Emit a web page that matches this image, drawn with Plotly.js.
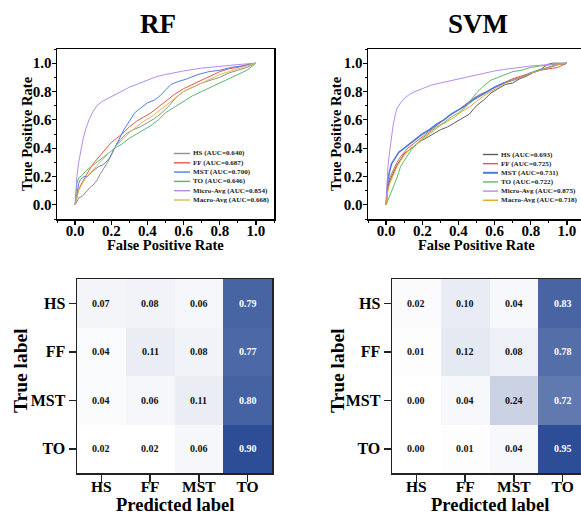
<!DOCTYPE html>
<html>
<head>
<meta charset="utf-8">
<script src="https://cdn.plot.ly/plotly-3.0.1.min.js"></script>
<style>
html,body{margin:0;padding:0;overflow:hidden;background:#fff;}
#plot{width:600px;height:515px;}
</style>
</head>
<body>
<div id="plot"></div>
<script>
// ---------------- DATA ----------------
const models = ['RF', 'SVM'];
const classLabels = ['HS', 'FF', 'MST', 'TO'];
const curveNames = ['HS', 'FF', 'MST', 'TO', 'Micro-Avg', 'Macro-Avg'];
const aucRF  = ['0.640', '0.687', '0.700', '0.646', '0.854', '0.668'];
const aucSVM = ['0.693', '0.725', '0.731', '0.722', '0.875', '0.718'];

// RF ROC curves (FPR, TPR)
const rfHS_fpr = [0,0.01,0.02,0.04,0.06,0.08,0.10,0.12,0.14,0.16,0.18,0.20,0.22,0.25,0.28,0.32,0.36,0.40,0.44,0.48,0.52,0.56,0.60,0.65,0.70,0.75,0.80,0.85,0.90,0.95,1];
const rfHS_tpr = [0,0.02,0.05,0.06,0.09,0.12,0.14,0.17,0.22,0.26,0.30,0.35,0.41,0.46,0.50,0.53,0.55,0.58,0.61,0.65,0.70,0.76,0.80,0.83,0.86,0.88,0.90,0.93,0.95,0.97,1];
const rfFF_fpr = [0,0.01,0.02,0.04,0.06,0.08,0.10,0.12,0.14,0.17,0.20,0.23,0.26,0.30,0.34,0.38,0.42,0.46,0.50,0.55,0.60,0.65,0.70,0.75,0.80,0.85,0.90,0.95,1];
const rfFF_tpr = [0,0.06,0.11,0.16,0.21,0.25,0.29,0.32,0.35,0.39,0.44,0.47,0.50,0.55,0.59,0.62,0.65,0.69,0.73,0.78,0.82,0.85,0.88,0.91,0.94,0.96,0.97,0.99,1];
const rfMST_fpr = [0,0.01,0.02,0.03,0.05,0.07,0.09,0.11,0.13,0.15,0.17,0.19,0.21,0.24,0.27,0.30,0.33,0.36,0.40,0.44,0.47,0.50,0.53,0.57,0.62,0.68,0.74,0.80,0.86,0.92,1];
const rfMST_tpr = [0,0.08,0.15,0.18,0.20,0.20,0.23,0.25,0.27,0.28,0.30,0.33,0.38,0.45,0.53,0.59,0.65,0.68,0.72,0.74,0.77,0.81,0.85,0.87,0.89,0.92,0.94,0.95,0.97,0.98,1];
const rfTO_fpr = [0,0.005,0.01,0.02,0.04,0.06,0.08,0.10,0.13,0.16,0.19,0.22,0.26,0.30,0.34,0.38,0.42,0.46,0.50,0.55,0.60,0.65,0.70,0.75,0.80,0.85,0.90,0.95,1];
const rfTO_tpr = [0,0.08,0.15,0.19,0.21,0.24,0.26,0.28,0.31,0.34,0.37,0.40,0.43,0.47,0.50,0.53,0.56,0.60,0.65,0.69,0.73,0.77,0.80,0.83,0.86,0.89,0.92,0.95,1];
const rfMicro_fpr = [0,0.005,0.01,0.02,0.03,0.045,0.06,0.08,0.10,0.12,0.15,0.20,0.25,0.30,0.35,0.40,0.45,0.50,0.55,0.60,0.70,0.80,0.90,1];
const rfMicro_tpr = [0,0.10,0.20,0.30,0.38,0.47,0.54,0.61,0.66,0.70,0.73,0.765,0.80,0.83,0.855,0.88,0.905,0.92,0.935,0.945,0.965,0.98,0.99,1];
const rfMacro_fpr = [0,0.01,0.02,0.04,0.06,0.08,0.10,0.13,0.16,0.19,0.22,0.26,0.30,0.34,0.38,0.42,0.46,0.50,0.55,0.60,0.65,0.70,0.75,0.80,0.85,0.90,0.95,1];
const rfMacro_tpr = [0,0.05,0.10,0.15,0.19,0.22,0.25,0.29,0.33,0.37,0.41,0.46,0.51,0.55,0.59,0.62,0.66,0.70,0.75,0.80,0.83,0.86,0.89,0.92,0.94,0.96,0.98,1];

// SVM ROC curves (FPR, TPR)
const svmHS_fpr = [0,0.005,0.01,0.02,0.04,0.06,0.08,0.10,0.13,0.16,0.19,0.22,0.26,0.30,0.34,0.38,0.42,0.46,0.50,0.54,0.58,0.62,0.66,0.70,0.74,0.78,0.82,0.86,0.89,0.92,1];
const svmHS_tpr = [0,0.06,0.12,0.17,0.23,0.28,0.32,0.36,0.39,0.42,0.45,0.47,0.50,0.53,0.55,0.58,0.61,0.64,0.70,0.74,0.79,0.82,0.85,0.86,0.89,0.91,0.94,0.96,0.99,1,1];
const svmFF_fpr = [0,0.005,0.01,0.02,0.04,0.06,0.08,0.10,0.12,0.15,0.18,0.21,0.24,0.28,0.32,0.36,0.40,0.44,0.48,0.52,0.56,0.60,0.65,0.70,0.75,0.80,0.85,0.90,0.95,1];
const svmFF_tpr = [0,0.08,0.14,0.19,0.25,0.30,0.34,0.37,0.40,0.43,0.46,0.49,0.52,0.56,0.60,0.64,0.67,0.71,0.75,0.78,0.80,0.83,0.86,0.89,0.91,0.93,0.95,0.96,0.97,1];
const svmMST_fpr = [0,0.005,0.01,0.02,0.03,0.05,0.07,0.09,0.11,0.14,0.17,0.20,0.24,0.28,0.32,0.36,0.40,0.44,0.48,0.52,0.56,0.60,0.65,0.70,0.75,0.80,0.85,0.90,0.95,1];
const svmMST_tpr = [0,0.10,0.18,0.24,0.29,0.33,0.37,0.39,0.41,0.44,0.47,0.50,0.53,0.57,0.60,0.64,0.67,0.70,0.74,0.77,0.80,0.83,0.86,0.88,0.90,0.93,0.95,0.97,0.99,1];
const svmTO_fpr = [0,0.01,0.02,0.03,0.04,0.05,0.06,0.07,0.08,0.10,0.12,0.14,0.17,0.20,0.24,0.28,0.32,0.36,0.40,0.44,0.47,0.50,0.54,0.58,0.62,0.66,0.70,0.75,0.80,0.85,0.90,0.95,1];
const svmTO_tpr = [0,0.03,0.06,0.09,0.12,0.16,0.19,0.23,0.27,0.31,0.35,0.39,0.43,0.47,0.51,0.55,0.58,0.62,0.65,0.69,0.74,0.79,0.84,0.88,0.90,0.92,0.94,0.95,0.97,0.98,0.99,0.995,1];
const svmMicro_fpr = [0,0.003,0.006,0.01,0.02,0.03,0.04,0.05,0.06,0.08,0.10,0.13,0.16,0.20,0.25,0.30,0.35,0.40,0.45,0.50,0.55,0.60,0.65,0.70,0.80,0.90,1];
const svmMicro_tpr = [0,0.10,0.20,0.27,0.38,0.48,0.57,0.63,0.68,0.72,0.75,0.78,0.80,0.82,0.845,0.86,0.875,0.89,0.90,0.915,0.93,0.945,0.955,0.965,0.98,0.99,1];
const svmMacro_fpr = [0,0.005,0.01,0.02,0.04,0.06,0.08,0.10,0.13,0.16,0.19,0.22,0.26,0.30,0.34,0.38,0.42,0.46,0.50,0.54,0.58,0.62,0.66,0.70,0.75,0.80,0.85,0.90,0.95,1];
const svmMacro_tpr = [0,0.05,0.10,0.15,0.21,0.27,0.31,0.35,0.39,0.42,0.45,0.48,0.52,0.56,0.59,0.62,0.66,0.69,0.73,0.77,0.80,0.83,0.86,0.88,0.90,0.93,0.95,0.97,0.99,1];

// Confusion matrices (rows = true label, cols = predicted label)
const cmRF = [
  [0.07, 0.08, 0.06, 0.79],
  [0.04, 0.11, 0.08, 0.77],
  [0.04, 0.06, 0.11, 0.80],
  [0.02, 0.02, 0.06, 0.90]
];
const cmSVM = [
  [0.02, 0.10, 0.04, 0.83],
  [0.01, 0.12, 0.08, 0.78],
  [0.00, 0.04, 0.24, 0.72],
  [0.00, 0.01, 0.04, 0.95]
];

const rocTicks = [0, 0.2, 0.4, 0.6, 0.8, 1.0];

// ---------------- STYLE / LAYOUT ----------------
const W = 600, H = 515;
const px = x => x / W;
const py = y => 1 - y / H;
const SERIF = 'Liberation Serif, Times New Roman, serif';
const bold = (size, color) => ({family: SERIF, size: size, weight: 'bold', color: color || '#000'});

const colorsRF  = ['#8f8f8f', '#e8554d', '#4f80e6', '#5cb46b', '#b58ce8', '#dcbb4c'];
const colorsSVM = ['#5e5e5e', '#e6564e', '#4b7ae2', '#5cb86a', '#b68de9', '#e6a61e'];
const widthsSVM = [1, 1, 1.6, 1, 1, 1];

const rfCurves = [[rfHS_fpr, rfHS_tpr], [rfFF_fpr, rfFF_tpr], [rfMST_fpr, rfMST_tpr],
                  [rfTO_fpr, rfTO_tpr], [rfMicro_fpr, rfMicro_tpr], [rfMacro_fpr, rfMacro_tpr]];
const svmCurves = [[svmHS_fpr, svmHS_tpr], [svmFF_fpr, svmFF_tpr], [svmMST_fpr, svmMST_tpr],
                   [svmTO_fpr, svmTO_tpr], [svmMicro_fpr, svmMicro_tpr], [svmMacro_fpr, svmMacro_tpr]];

const traces = [];
rfCurves.forEach((c, i) => traces.push({
  type: 'scatter', mode: 'lines', x: c[0], y: c[1], xaxis: 'x', yaxis: 'y',
  name: curveNames[i], line: {color: colorsRF[i], width: 1}, showlegend: false, hoverinfo: 'skip'
}));
svmCurves.forEach((c, i) => traces.push({
  type: 'scatter', mode: 'lines', x: c[0], y: c[1], xaxis: 'x2', yaxis: 'y2',
  name: curveNames[i], line: {color: colorsSVM[i], width: widthsSVM[i]}, showlegend: false, hoverinfo: 'skip'
}));

const flat = m => m.reduce((a, r) => a.concat(r), []);
const cmScale = [[0, 'rgb(255,255,255)'], [1, 'rgb(45,78,150)']];
[[cmRF, 'x3', 'y3'], [cmSVM, 'x4', 'y4']].forEach(([m, xa, ya]) => {
  const f = flat(m);
  traces.push({
    type: 'heatmap', z: m, x: classLabels, y: classLabels, xaxis: xa, yaxis: ya,
    colorscale: cmScale, zmin: Math.min(...f), zmax: Math.max(...f), showscale: false,
    xgap: 0, ygap: 0, hoverinfo: 'skip'
  });
});

const annotations = [];
const shapes = [];

// cell value annotations
[[cmRF, 'x3', 'y3'], [cmSVM, 'x4', 'y4']].forEach(([m, xa, ya]) => {
  const f = flat(m);
  const lo = Math.min(...f), hi = Math.max(...f);
  m.forEach((row, r) => row.forEach((v, c) => {
    const t = (v - lo) / (hi - lo);
    annotations.push({
      x: classLabels[c], y: classLabels[r], xref: xa, yref: ya, showarrow: false,
      text: v.toFixed(2), font: bold(10, t > 0.5 ? '#ffffff' : '#111111')
    });
  }));
});

// subplot titles
annotations.push({x: px(158), y: py(24), xref: 'paper', yref: 'paper', text: models[0],
  showarrow: false, font: bold(27), xanchor: 'center', yanchor: 'middle'});
annotations.push({x: px(478), y: py(24), xref: 'paper', yref: 'paper', text: models[1],
  showarrow: false, font: bold(27), xanchor: 'center', yanchor: 'middle'});

// axis titles
const axTitle = (x, y, text, size, angle) => annotations.push({
  x: px(x), y: py(y), xref: 'paper', yref: 'paper', text: text, showarrow: false,
  font: bold(size), textangle: angle || 0, xanchor: 'center', yanchor: 'middle', borderpad: 0
});
axTitle(27, 134, 'True Positive Rate', 14.5, -90);
axTitle(165.5, 245, 'False Positive Rate', 14.5);
axTitle(336, 134, 'True Positive Rate', 14.5, -90);
axTitle(476.5, 245, 'False Positive Rate', 14.5);
axTitle(20, 371, 'True label', 19.5, -90);
axTitle(174.5, 505, 'Predicted label', 18.5);
axTitle(337, 371, 'True label', 19.5, -90);
axTitle(489.5, 505, 'Predicted label', 18.5);

// manual legends
const drawLegend = (x0, x1, top, step, aucs, colors, widths) => {
  curveNames.forEach((n, i) => {
    const yy = top + i * step;
    shapes.push({type: 'line', xref: 'paper', yref: 'paper', x0: px(x0), x1: px(x1),
      y0: py(yy), y1: py(yy), line: {color: colors[i], width: (widths ? widths[i] : 1) + 0.4}});
    annotations.push({x: px(x1 + 0.5), y: py(yy), xref: 'paper', yref: 'paper',
      text: n + ' (AUC=' + aucs[i] + ')', showarrow: false, xanchor: 'left', yanchor: 'middle',
      font: bold(7.1, '#222')});
  });
};
drawLegend(174, 190, 153.5, 9.3, aucRF, colorsRF);
drawLegend(483, 498, 154.5, 9.15, aucSVM, colorsSVM, widthsSVM);

const rocAxis = (domain, isX) => ({
  domain: domain, range: [-0.1, 1.1], tickvals: rocTicks, ticktext: rocTicks.map(v => v.toFixed(1)),
  showgrid: false, zeroline: false, showline: true, mirror: true, linecolor: '#000', linewidth: 1.5,
  ticks: 'outside', ticklen: 4, tickwidth: 1.2, tickcolor: '#000',
  ticklabelstandoff: isX ? -7 : -3,
  minor: {tickvals: [-0.1, 0.1, 0.3, 0.5, 0.7, 0.9, 1.1], ticks: 'outside', ticklen: 2, tickwidth: 1, tickcolor: '#000'},
  tickfont: bold(15), fixedrange: true
});
const cmAxis = (domain, isY) => ({
  domain: domain, type: 'category', categoryorder: 'array', categoryarray: classLabels,
  autorange: isY ? 'reversed' : true,
  showgrid: false, zeroline: false, showline: true, mirror: true, linecolor: '#222', linewidth: 1.5,
  ticks: 'outside', ticklen: 7, tickwidth: 1.5, tickcolor: '#222', tickfont: bold(isY ? 16 : 15.5), fixedrange: true,
  ticklabelstandoff: isY ? 0 : -8
});

const layout = {
  width: W, height: H, margin: {l: 0, r: 0, t: 0, b: 0},
  paper_bgcolor: '#fff', plot_bgcolor: '#fff', showlegend: false,
  xaxis:  Object.assign(rocAxis([px(57), px(274)], true), {anchor: 'y'}),
  yaxis:  Object.assign(rocAxis([py(219), py(49)], false), {anchor: 'x'}),
  xaxis2: Object.assign(rocAxis([px(368), px(585)], true), {anchor: 'y2'}),
  yaxis2: Object.assign(rocAxis([py(219), py(49)], false), {anchor: 'x2'}),
  xaxis3: Object.assign(cmAxis([px(77), px(272)], false), {anchor: 'y3'}),
  yaxis3: Object.assign(cmAxis([py(473), py(279)], true), {anchor: 'x3'}),
  xaxis4: Object.assign(cmAxis([px(392), px(587)], false), {anchor: 'y4'}),
  yaxis4: Object.assign(cmAxis([py(473), py(279)], true), {anchor: 'x4'}),
  annotations: annotations, shapes: shapes
};

Plotly.newPlot('plot', traces, layout, {displayModeBar: false, staticPlot: true});
</script>
</body>
</html>
